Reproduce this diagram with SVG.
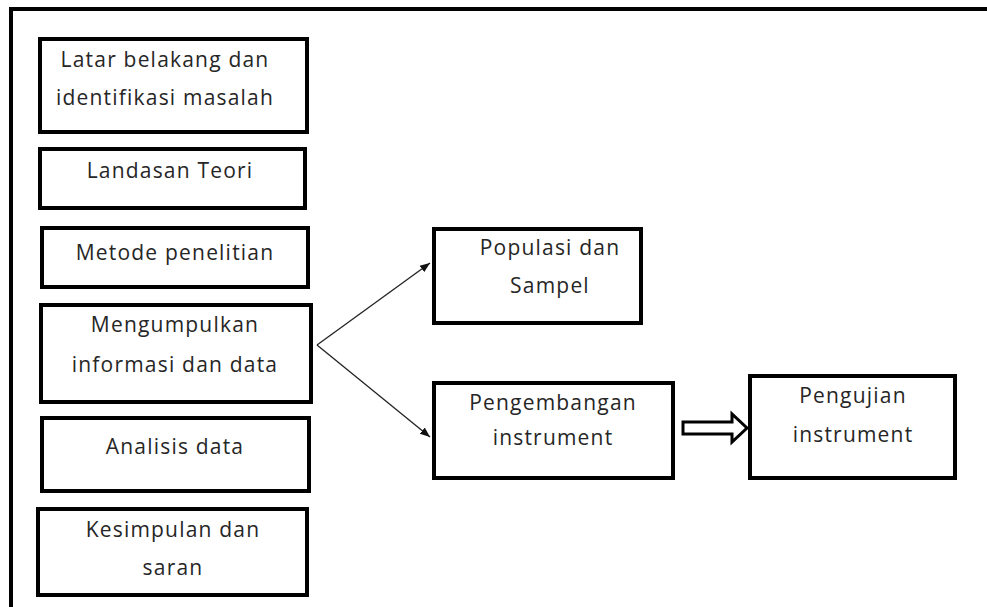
<svg xmlns="http://www.w3.org/2000/svg" width="987" height="607" viewBox="0 0 987 607">
<style>
.box{fill:#fff;stroke:#000;stroke-width:4}
.t{font-family:"Open Sans","Liberation Sans",sans-serif;font-size:21px;letter-spacing:1.2px;fill:#262626;text-anchor:middle}
.ln{stroke:#222;stroke-width:1.3;fill:none}
</style>
<defs>
<marker id="ah" viewBox="0 0 10 10" refX="10" refY="5" markerWidth="10" markerHeight="10" markerUnits="userSpaceOnUse" orient="auto">
<path d="M0,1 L10,5 L0,9 Z" fill="#111"/>
</marker>
</defs>
<rect width="987" height="607" fill="#fff"/>
<path d="M11,607 V9 H987" fill="none" stroke="#000" stroke-width="4"/>
<g id="n1"><rect class="box" x="40" y="39" width="267" height="93"/><text class="t" x="165" y="67">Latar belakang dan</text><text class="t" x="165" y="105">identifikasi masalah</text></g>
<g id="n2"><rect class="box" x="40" y="149" width="265" height="59"/><text class="t" x="170" y="178">Landasan Teori</text></g>
<g id="n3"><rect class="box" x="42" y="228" width="266" height="59"/><text class="t" x="175" y="260">Metode penelitian</text></g>
<g id="n4"><rect class="box" x="41" y="305" width="270" height="97"/><text class="t" x="175" y="332">Mengumpulkan</text><text class="t" x="175" y="372">informasi dan data</text></g>
<g id="n5"><rect class="box" x="42" y="418" width="267" height="73"/><text class="t" x="175" y="454">Analisis data</text></g>
<g id="n6"><rect class="box" x="38" y="509" width="269" height="86"/><text class="t" x="173" y="537">Kesimpulan dan</text><text class="t" x="173" y="575">saran</text></g>
<g id="n7"><rect class="box" x="434" y="229" width="207" height="94"/><text class="t" x="550" y="255">Populasi dan</text><text class="t" x="550" y="293">Sampel</text></g>
<g id="n8"><rect class="box" x="434" y="383" width="239" height="95"/><text class="t" x="553" y="410">Pengembangan</text><text class="t" x="553" y="445">instrument</text></g>
<g id="n9"><rect class="box" x="750" y="376" width="205" height="102"/><text class="t" x="853" y="403">Pengujian</text><text class="t" x="853" y="442">instrument</text></g>
<g id="connectors">
<line class="ln" x1="317" y1="345" x2="430" y2="263" marker-end="url(#ah)"/>
<line class="ln" x1="317" y1="345" x2="430" y2="437" marker-end="url(#ah)"/>
<path d="M683,422 H732 V414 L747,428 L732,442 V434 H683 Z" fill="#fff" stroke="#000" stroke-width="3" stroke-linejoin="miter"/>
</g>
</svg>
